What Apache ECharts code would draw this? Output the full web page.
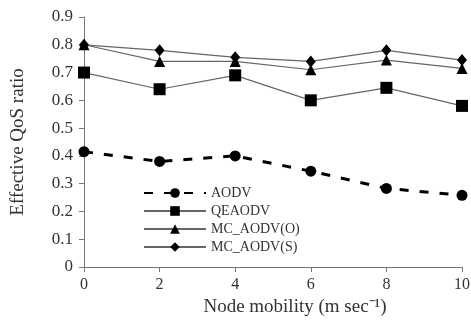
<!DOCTYPE html>
<html><head><meta charset="utf-8">
<script src="https://cdn.jsdelivr.net/npm/echarts@6/dist/echarts.min.js"></script>
<style>html,body{margin:0;padding:0;background:#fff}#c{width:471px;height:322px}</style>
</head><body><div id="c"></div>
<script>
var mobility = [0, 2, 4, 6, 8, 10];
var aodv = [0.415, 0.38, 0.40, 0.345, 0.283, 0.258];
var qeaodv = [0.70, 0.64, 0.69, 0.60, 0.645, 0.58];
var mcO = [0.80, 0.74, 0.74, 0.71, 0.745, 0.715];
var mcS = [0.80, 0.78, 0.755, 0.74, 0.78, 0.745];
var names = ['AODV', 'QEAODV', 'MC_AODV(O)', 'MC_AODV(S)'];

function pts(v){ return mobility.map(function(x,i){ return [x, v[i]]; }); }
var font = 'Liberation Serif';
var chart = echarts.init(document.getElementById('c'));
chart.setOption({
  animation: false,
  backgroundColor: '#fff',
  grid: {left: 84, right: 9, top: 17, bottom: 55, containLabel: false, outerBoundsMode: 'none'},
  legend: {
    orient: 'vertical', left: 138, top: 181, itemWidth: 62, itemHeight: 12, itemGap: 4,
    textStyle: {fontFamily: font, fontSize: 14, lineHeight: 12, color: '#333'},
    data: names
  },
  xAxis: {
    type: 'value', min: 0, max: 10, interval: 2,
    name: 'Node mobility (m sec\u207B\u00B9)', nameLocation: 'middle', nameGap: 31,
    nameTextStyle: {fontFamily: font, fontSize: 19, color: '#333', padding: [0, 0, 0, 44]},
    axisLine: {lineStyle: {color: '#777'}},
    axisTick: {show: true, length: 5, lineStyle: {color: '#777'}},
    axisLabel: {fontFamily: font, fontSize: 16, color: '#333', margin: 10},
    splitLine: {show: false}
  },
  yAxis: {
    type: 'value', min: 0, max: 0.9, interval: 0.1,
    name: 'Effective QoS ratio', nameLocation: 'middle', nameGap: 56,
    nameTextStyle: {fontFamily: font, fontSize: 19, color: '#333'},
    axisLine: {show: true, lineStyle: {color: '#777'}},
    axisTick: {show: true, length: 5, lineStyle: {color: '#777'}},
    axisLabel: {fontFamily: font, fontSize: 17, color: '#333', margin: 11,
      formatter: function(v){ return v === 0 ? '0' : v.toFixed(1); }},
    splitLine: {show: false}
  },
  series: [
    {name: names[0], type: 'line', data: pts(aodv), symbol: 'circle', symbolSize: 11,
     itemStyle: {color: '#000'}, lineStyle: {color: '#000', width: 3, type: [9, 11]}},
    {name: names[1], type: 'line', data: pts(qeaodv), symbol: 'rect', symbolSize: 12,
     itemStyle: {color: '#000'}, lineStyle: {color: '#666', width: 1.2}},
    {name: names[2], type: 'line', data: pts(mcO), symbol: 'triangle', symbolSize: 11,
     itemStyle: {color: '#000'}, lineStyle: {color: '#666', width: 1.2}},
    {name: names[3], type: 'line', data: pts(mcS), symbol: 'diamond', symbolSize: [10, 12],
     itemStyle: {color: '#000'}, lineStyle: {color: '#666', width: 1.2}}
  ]
});
</script></body></html>
